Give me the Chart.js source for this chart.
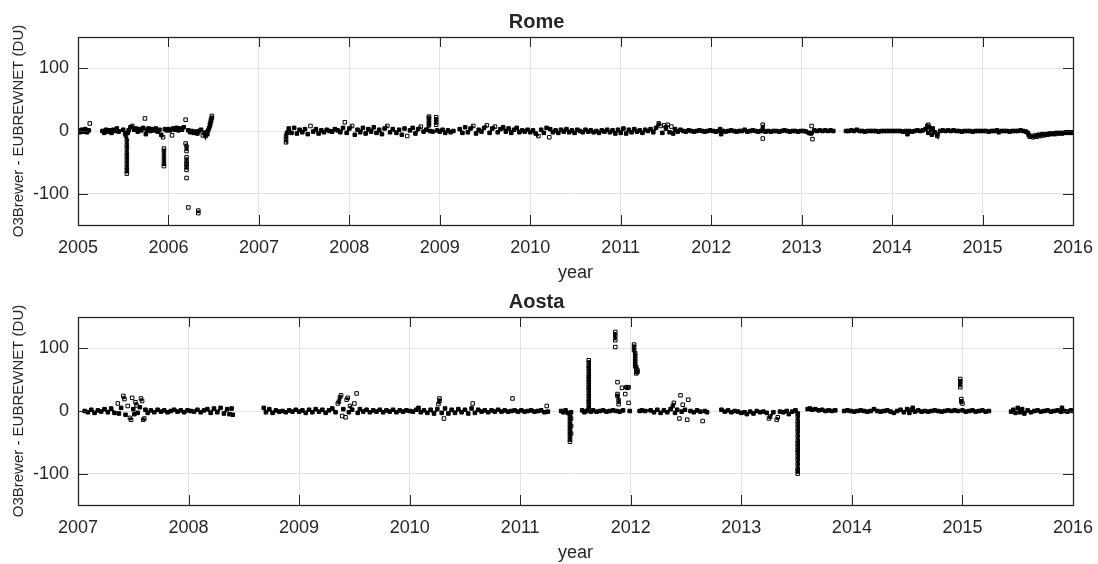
<!DOCTYPE html>
<html>
<head>
<meta charset="utf-8">
<script src="https://cdn.jsdelivr.net/npm/chart.js@4/dist/chart.umd.min.js"></script>
<style>
  body { margin: 0; background: #fff; }
  canvas { position: absolute; left: 0; }
  #rome { top: 0; }
  #aosta { top: 280px; }
</style>
</head>
<body>
<canvas id="rome" width="1098" height="282"></canvas>
<canvas id="aosta" width="1098" height="282"></canvas>
<script>
// datos: [año decimal, O3Brewer - EUBREWNET (DU)]
const romeTicks = [2005, 2006, 2007, 2008, 2009, 2010, 2011, 2012, 2013, 2014, 2015, 2016];
const aostaTicks = [2007, 2008, 2009, 2010, 2011, 2012, 2013, 2014, 2015, 2016];
const yTicks = [-100, 0, 100];

const romePoints = [
  [2005.00,1],[2005.02,-2],[2005.04,2],[2005.06,-1],[2005.08,3],[2005.10,-2],[2005.12,1],[2005.13,12],
  [2005.27,0],[2005.29,-3],[2005.31,2],[2005.33,-1],[2005.35,1],[2005.37,-3],[2005.39,2],[2005.41,0],[2005.43,4],[2005.45,-1],
  [2005.50,2],[2005.52,-4],[2005.53,-8],[2005.54,-15],[2005.54,-22],[2005.54,-28],[2005.54,-35],[2005.54,-40],[2005.54,-46],[2005.54,-52],[2005.54,-58],[2005.54,-63],[2005.54,-68],[2005.55,-3],[2005.56,1],
  [2005.58,6],[2005.60,8],[2005.62,2],[2005.64,4],[2005.66,-1],[2005.68,3],[2005.70,1],[2005.72,5],[2005.74,20],[2005.75,-5],[2005.76,2],[2005.78,4],[2005.80,0],[2005.82,3],[2005.84,1],[2005.86,4],[2005.88,-1],[2005.90,2],[2005.92,-6],
  [2005.94,-10],[2005.95,-28],[2005.95,-33],[2005.95,-40],[2005.95,-46],[2005.95,-52],[2005.95,-56],[2005.96,3],[2005.98,1],
  [2006.00,3],[2006.02,1],[2006.04,-7],[2006.05,4],[2006.07,2],[2006.09,5],[2006.11,1],[2006.13,4],[2006.15,2],[2006.17,6],
  [2006.19,18],[2006.19,-20],[2006.20,-25],[2006.20,-32],[2006.20,-42],[2006.20,-48],[2006.20,-53],[2006.20,-57],[2006.20,-62],[2006.20,-75],[2006.22,-122],
  [2006.22,1],[2006.24,-2],[2006.26,0],[2006.28,-3],[2006.30,-1],[2006.32,-4],[2006.33,-127],[2006.33,-131],[2006.34,0],[2006.36,2],[2006.38,-7],[2006.40,-3],[2006.41,-8],[2006.42,-2],[2006.43,-5],[2006.44,1],
  [2006.45,5],[2006.46,9],[2006.46,12],[2006.47,15],[2006.47,18],[2006.48,21],[2006.48,24],
  [2007.30,-18],[2007.30,-13],[2007.30,-8],[2007.31,-3],
  [2007.33,4],[2007.36,-3],[2007.39,5],[2007.42,-4],[2007.45,2],[2007.48,-2],[2007.51,3],[2007.54,-5],[2007.57,8],[2007.60,-1],[2007.63,3],[2007.66,-4],[2007.69,1],[2007.72,-2],[2007.75,2],[2007.78,0],[2007.81,-1],[2007.84,3],[2007.87,1],[2007.90,-2],[2007.93,5],[2007.95,14],[2007.97,-3],
  [2008.00,4],[2008.03,8],[2008.06,-6],[2008.09,2],[2008.12,-2],[2008.15,5],[2008.18,-4],[2008.21,3],[2008.24,-1],[2008.27,6],[2008.30,-3],[2008.33,2],[2008.36,-5],[2008.39,4],[2008.42,8],[2008.45,-2],[2008.48,3],
  [2008.52,-3],[2008.55,2],[2008.58,-6],[2008.61,4],[2008.64,-8],[2008.67,1],[2008.70,5],[2008.73,-4],[2008.76,3],[2008.79,7],[2008.82,-1],[2008.85,2],
  [2008.88,9],[2008.88,13],[2008.88,17],[2008.88,21],[2008.88,23],[2008.89,0],[2008.92,-1],[2008.96,10],[2008.96,14],[2008.96,18],[2008.96,22],[2008.97,1],
  [2009.00,-1],[2009.03,2],[2009.06,-3],[2009.09,1],[2009.12,-2],[2009.15,0],
  [2009.22,3],[2009.25,-3],[2009.28,6],[2009.31,-2],[2009.34,4],[2009.37,8],[2009.40,-4],[2009.43,2],[2009.46,-1],[2009.49,5],[2009.52,9],[2009.55,-3],[2009.58,4],[2009.61,7],[2009.64,-2],[2009.67,3],[2009.70,6],[2009.73,-1],[2009.76,4],[2009.79,-3],[2009.82,2],[2009.85,5],[2009.88,-2],[2009.91,1],[2009.94,-1],[2009.97,2],
  [2010.00,-2],[2010.03,1],[2010.06,-4],[2010.09,-8],[2010.12,2],[2010.15,-3],[2010.18,5],[2010.21,-10],[2010.22,3],[2010.25,-2],[2010.28,1],[2010.31,-3],[2010.34,2],[2010.37,-1],[2010.40,3],[2010.43,-2],[2010.46,1],[2010.49,-3],[2010.52,2],[2010.55,0],[2010.58,-2],[2010.61,2],[2010.64,-1],[2010.67,1],[2010.70,-2],[2010.73,0],[2010.76,-3],[2010.79,1],[2010.82,-1],[2010.85,2],[2010.88,-2],[2010.91,1],[2010.94,-4],[2010.97,2],
  [2011.00,-3],[2011.03,4],[2011.06,-4],[2011.09,2],[2011.12,-2],[2011.15,3],[2011.18,-1],[2011.21,1],[2011.24,-3],[2011.27,2],[2011.30,0],[2011.33,3],[2011.36,-2],[2011.39,5],[2011.42,12],[2011.44,8],[2011.46,-3],[2011.48,9],[2011.50,4],[2011.52,10],[2011.54,-2],[2011.56,7],[2011.58,-4],[2011.60,3],[2011.63,-1],[2011.66,2],
  [2011.69,0],[2011.72,-1],[2011.75,1],[2011.78,0],[2011.81,-1],[2011.84,0],[2011.87,1],[2011.90,0],[2011.93,-1],[2011.96,0],[2011.99,1],[2012.02,0],[2012.05,-1],[2012.08,0],[2012.10,3],[2012.11,-5],[2012.13,0],[2012.16,-1],[2012.19,0],[2012.22,1],[2012.25,0],[2012.28,-1],[2012.31,0],[2012.34,0],[2012.37,2],[2012.40,-1],[2012.43,0],[2012.46,1],[2012.49,0],[2012.52,-1],[2012.55,0],
  [2012.57,10],[2012.57,3],[2012.57,-12],
  [2012.60,-1],[2012.63,0],[2012.66,-1],[2012.69,0],[2012.72,0],[2012.75,-1],[2012.78,0],[2012.81,1],[2012.84,0],[2012.87,-1],[2012.90,0],[2012.93,0],[2012.96,-1],[2012.99,0],[2013.02,0],[2013.05,-1],[2013.08,-3],
  [2013.10,-4],[2013.11,8],[2013.11,-3],[2013.12,-13],
  [2013.14,1],[2013.17,0],[2013.20,1],[2013.23,0],[2013.26,1],[2013.29,0],[2013.32,1],[2013.35,0],
  [2013.49,0],[2013.52,0],[2013.55,1],[2013.58,0],[2013.61,2],[2013.64,0],[2013.67,0],[2013.70,-1],[2013.73,0],[2013.76,0],[2013.79,0],[2013.82,0],[2013.85,-1],[2013.88,0],[2013.91,0],[2013.94,0],[2013.97,0],
  [2014.00,0],[2014.03,0],[2014.06,0],[2014.09,0],[2014.12,-1],[2014.15,0],[2014.17,-5],[2014.19,0],[2014.22,-1],[2014.25,0],[2014.28,1],[2014.31,0],[2014.34,1],[2014.37,3],[2014.39,8],[2014.40,10],[2014.40,-3],[2014.41,6],[2014.43,2],[2014.44,-6],[2014.45,4],[2014.47,-2],[2014.50,-8],[2014.50,-5],[2014.53,0],[2014.56,1],[2014.59,0],[2014.62,1],[2014.65,0],[2014.68,1],[2014.71,0],[2014.74,0],[2014.77,-1],[2014.80,0],[2014.83,0],[2014.86,0],[2014.89,-1],[2014.92,0],[2014.95,0],[2014.98,0],
  [2015.01,0],[2015.04,0],[2015.07,-1],[2015.10,0],[2015.13,0],[2015.16,1],[2015.18,-2],[2015.21,0],[2015.24,0],[2015.27,0],[2015.30,-1],[2015.33,0],[2015.36,0],[2015.39,0],[2015.42,1],[2015.45,0],[2015.48,-1],
  [2015.50,-3],[2015.51,-6],[2015.52,-9],[2015.54,-8],[2015.56,-10],[2015.58,-7],[2015.60,-9],[2015.62,-6],[2015.64,-8],[2015.66,-5],[2015.68,-7],[2015.70,-5],[2015.72,-6],[2015.74,-4],[2015.76,-5],[2015.78,-4],[2015.80,-5],[2015.82,-3],[2015.84,-4],[2015.86,-3],[2015.88,-4],[2015.90,-3],[2015.92,-2],[2015.94,-3],[2015.96,-2],[2015.98,-3],[2016.00,-2]
];

const aostaPoints = [
  [2007.06,0],[2007.09,-2],[2007.12,2],[2007.15,-3],[2007.18,1],[2007.21,-1],[2007.24,3],[2007.27,-2],[2007.30,4],[2007.33,-3],[2007.36,12],[2007.37,-4],[2007.39,5],[2007.41,24],[2007.42,19],[2007.43,-6],[2007.45,8],[2007.47,-11],[2007.48,-14],[2007.49,21],[2007.50,3],[2007.51,-5],[2007.52,14],[2007.53,9],[2007.54,-3],[2007.56,6],[2007.57,20],[2007.58,16],[2007.59,-14],[2007.60,-12],[2007.61,2],[2007.63,-3],[2007.66,1],[2007.69,-2],[2007.72,2],[2007.75,-1],[2007.78,1],[2007.81,-2],[2007.84,0],[2007.87,2],[2007.90,-1],[2007.93,1],[2007.96,-2],[2007.99,1],
  [2008.02,0],[2008.05,-1],[2008.08,2],[2008.11,-2],[2008.14,1],[2008.17,3],[2008.20,-3],[2008.23,4],[2008.26,-2],[2008.29,5],[2008.32,-4],[2008.35,3],[2008.37,-5],[2008.39,4],[2008.40,-6],
  [2008.68,5],[2008.70,-2],[2008.73,3],[2008.76,-3],[2008.79,1],[2008.82,-1],[2008.85,0],[2008.88,-2],[2008.91,1],[2008.94,-1],[2008.97,2],[2009.00,-1],[2009.03,1],[2009.06,-3],[2009.09,2],[2009.12,-2],[2009.15,3],[2009.18,-1],[2009.21,2],[2009.24,-3],[2009.27,1],
  [2009.30,4],[2009.33,-2],[2009.35,12],[2009.36,15],[2009.37,22],[2009.38,25],[2009.39,-8],[2009.40,3],[2009.42,-10],[2009.43,18],[2009.44,21],[2009.45,-2],[2009.46,8],[2009.48,2],[2009.50,12],[2009.52,28],[2009.53,-3],[2009.55,3],[2009.58,-1],[2009.61,2],[2009.64,-2],[2009.67,1],[2009.70,-1],[2009.73,2],[2009.76,-2],[2009.79,1],[2009.82,-1],[2009.85,2],[2009.88,-2],[2009.91,1],[2009.94,-1],[2009.97,1],
  [2010.00,0],[2010.03,-1],[2010.06,2],[2010.08,5],[2010.10,-2],[2010.13,1],[2010.16,-3],[2010.19,2],[2010.22,-4],[2010.25,3],[2010.26,11],[2010.27,16],[2010.27,20],[2010.29,-3],[2010.31,-12],[2010.32,4],[2010.35,-4],[2010.38,2],[2010.41,-3],[2010.44,3],[2010.47,-2],[2010.50,2],[2010.53,-4],[2010.56,4],[2010.57,12],[2010.59,-3],[2010.62,2],[2010.65,-1],[2010.68,1],[2010.71,-2],[2010.74,1],[2010.77,-1],[2010.80,2],[2010.83,-1],[2010.86,1],[2010.89,-1],[2010.92,0],[2010.93,20],[2010.95,1],[2010.98,-1],
  [2011.01,1],[2011.04,-1],[2011.07,0],[2011.10,1],[2011.13,-1],[2011.16,0],[2011.19,1],[2011.22,-2],[2011.24,8],[2011.25,-1],
  [2011.37,0],[2011.39,-2],[2011.41,1],[2011.43,-3],
  [2011.45,-5],[2011.45,-9],[2011.45,-13],[2011.45,-17],[2011.45,-21],[2011.45,-25],[2011.45,-29],[2011.45,-33],[2011.45,-37],[2011.45,-41],[2011.45,-45],[2011.45,-49],[2011.46,-36],[2011.46,-24],[2011.46,-12],[2011.46,-2],
  [2011.56,1],[2011.58,-2],[2011.60,0],
  [2011.62,6],[2011.62,11],[2011.62,15],[2011.62,19],[2011.62,24],[2011.62,28],[2011.62,33],[2011.62,37],[2011.62,41],[2011.62,46],[2011.62,50],[2011.62,54],[2011.62,58],[2011.62,63],[2011.62,68],[2011.62,72],[2011.62,77],[2011.62,81],
  [2011.64,-1],[2011.66,1],[2011.69,-1],[2011.72,0],[2011.75,1],[2011.78,-1],[2011.81,0],[2011.84,1],
  [2011.86,126],[2011.86,120],[2011.86,113],[2011.86,102],[2011.87,0],[2011.88,46],[2011.88,27],[2011.88,24],[2011.89,17],[2011.89,11],[2011.90,-1],[2011.92,37],[2011.93,1],[2011.95,27],[2011.96,38],[2011.97,37],[2011.98,38],[2011.98,13],[2011.99,0],
  [2012.03,106],[2012.03,102],[2012.03,97],[2012.04,92],[2012.04,88],[2012.04,83],[2012.04,79],[2012.04,75],[2012.04,71],[2012.05,67],[2012.05,63],[2012.05,60],[2012.05,70],[2012.06,65],[2012.06,62],
  [2012.08,0],[2012.10,1],[2012.13,0],
  [2012.18,1],[2012.21,-2],[2012.24,2],[2012.27,-3],[2012.30,1],[2012.33,-2],[2012.36,3],[2012.38,8],[2012.39,13],[2012.40,-3],[2012.42,2],[2012.44,-12],[2012.45,25],[2012.46,-1],[2012.47,10],[2012.49,2],[2012.51,-14],[2012.52,18],[2012.54,0],[2012.57,-2],[2012.60,1],[2012.63,-1],[2012.65,-16],[2012.67,0],[2012.69,-2],
  [2012.82,2],[2012.85,-1],[2012.88,1],[2012.91,-2],[2012.94,0],[2012.97,-1],[2013.00,-3],[2013.03,-2],[2013.05,-5],[2013.08,-1],[2013.11,-4],[2013.14,0],[2013.17,-2],[2013.20,-1],[2013.23,-3],[2013.25,-12],[2013.26,-9],[2013.29,-2],[2013.32,-14],[2013.33,-10],[2013.35,-1],[2013.38,-2],[2013.41,0],[2013.43,-5],[2013.46,-1],[2013.49,1],
  [2013.51,-4],[2013.51,-9],[2013.51,-16],[2013.51,-21],[2013.51,-27],[2013.51,-33],[2013.51,-40],[2013.51,-47],[2013.51,-52],[2013.51,-57],[2013.51,-62],[2013.51,-66],[2013.51,-72],[2013.51,-78],[2013.51,-85],[2013.51,-92],[2013.51,-96],[2013.51,-100],
  [2013.60,3],[2013.62,4],[2013.64,2],[2013.67,3],[2013.70,1],[2013.73,2],[2013.76,0],[2013.79,1],[2013.82,0],[2013.85,1],
  [2013.93,0],[2013.96,1],[2013.99,0],[2014.02,-1],[2014.05,0],[2014.08,1],[2014.11,0],[2014.14,-1],[2014.17,0],[2014.20,3],[2014.23,0],[2014.26,-1],[2014.29,0],[2014.32,1],[2014.35,-1],[2014.38,-3],[2014.41,0],[2014.44,2],[2014.47,-2],[2014.50,3],[2014.52,-3],[2014.54,2],[2014.55,5],[2014.57,-1],[2014.60,1],[2014.63,-1],[2014.66,0],[2014.69,-1],[2014.72,0],[2014.75,1],[2014.78,0],[2014.81,-1],[2014.84,0],[2014.87,1],[2014.90,0],[2014.93,1],[2014.96,0],
  [2014.98,51],[2014.98,47],[2014.98,43],[2014.98,38],[2014.99,19],[2014.99,15],[2015.00,12],[2015.00,1],[2015.03,-1],[2015.06,0],[2015.09,1],[2015.12,-1],[2015.15,0],[2015.18,1],[2015.21,-1],[2015.24,0],
  [2015.44,-1],[2015.46,2],[2015.48,-3],[2015.50,5],[2015.52,-2],[2015.54,3],[2015.56,-4],[2015.59,1],[2015.62,-2],[2015.65,0],[2015.68,1],[2015.71,-1],[2015.74,0],[2015.77,1],[2015.80,-1],[2015.83,0],[2015.86,1],[2015.89,-1],[2015.90,5],[2015.92,0],[2015.95,-1],[2015.98,1],[2016.00,0]
];

const axisColor = '#262626';
const gridColor = '#e3e3e3';
const fontFamily = '"Liberation Sans", Arial, Helvetica, sans-serif';

// caja estilo MATLAB con marcas hacia adentro
const boxPlugin = {
  id: 'matlabBox',
  afterDraw(chart) {
    const ctx = chart.ctx;
    const a = chart.chartArea;
    const x = chart.scales.x;
    const y = chart.scales.y;
    const tick = 10;
    ctx.save();
    ctx.strokeStyle = axisColor;
    ctx.lineWidth = 1;
    ctx.beginPath();
    x.ticks.forEach(function (t) {
      const px = Math.round(x.getPixelForValue(t.value)) + 0.5;
      ctx.moveTo(px, a.bottom); ctx.lineTo(px, a.bottom - tick);
      ctx.moveTo(px, a.top); ctx.lineTo(px, a.top + tick);
    });
    y.ticks.forEach(function (t) {
      const py = Math.round(y.getPixelForValue(t.value)) + 0.5;
      ctx.moveTo(a.left, py); ctx.lineTo(a.left + tick, py);
      ctx.moveTo(a.right, py); ctx.lineTo(a.right - tick, py);
    });
    ctx.stroke();
    ctx.lineWidth = 1.3;
    ctx.strokeRect(Math.round(a.left) + 0.5, Math.round(a.top) + 0.5, Math.round(a.right - a.left), Math.round(a.bottom - a.top));
    ctx.restore();
  }
};

// puntos densos cerca de cero se ven rellenos (se solapan), los aislados huecos
function marker_fill(c) {
  const v = c.raw ? c.raw.y : 0;
  return Math.abs(v) <= 6 ? '#000' : 'rgba(0,0,0,0)';
}

// solo se unen mediciones vecinas (banda continua), no huecos ni saltos
function band_segment(c) {
  const dx = Math.abs(c.p1.parsed.x - c.p0.parsed.x);
  const dy = Math.abs(c.p1.parsed.y - c.p0.parsed.y);
  return (dx > 0.05 || dy > 7) ? 'rgba(0,0,0,0)' : undefined;
}

function scatter_panel(canvasId, title, points, xTicks) {
  const ctx = document.getElementById(canvasId).getContext('2d');
  return new Chart(ctx, {
    type: 'scatter',
    data: {
      datasets: [{
        data: points.map(function (p) { return { x: p[0], y: p[1] }; }),
        showLine: true,
        borderColor: '#000',
        borderWidth: 2.5,
        tension: 0,
        segment: { borderColor: band_segment },
        pointStyle: 'rect',
        pointRadius: 2.5,
        pointBorderColor: '#000',
        pointBackgroundColor: marker_fill,
        pointBorderWidth: 1
      }]
    },
    options: {
      responsive: false,
      animation: false,
      devicePixelRatio: 1,
      layout: { padding: { left: 0, right: 25, top: 0, bottom: 0 } },
      plugins: {
        legend: { display: false },
        tooltip: { enabled: false },
        title: {
          display: true,
          text: title,
          color: axisColor,
          font: { family: fontFamily, size: 20, weight: 'bold', lineHeight: 1.2 },
          padding: { top: 10, bottom: 3 }
        }
      },
      scales: {
        x: {
          type: 'linear',
          min: xTicks[0],
          max: xTicks[xTicks.length - 1],
          afterBuildTicks: function (s) { s.ticks = xTicks.map(function (v) { return { value: v }; }); },
          afterFit: function (s) { s.height = 57; s.paddingLeft = 0; s.paddingRight = 0; },
          grid: { color: gridColor, drawTicks: false },
          border: { display: false },
          ticks: {
            color: axisColor,
            padding: 12,
            maxRotation: 0,
            autoSkip: false,
            font: { family: fontFamily, size: 18 },
            callback: function (v) { return String(v); }
          },
          title: {
            display: true,
            text: 'year',
            color: axisColor,
            padding: { top: 0, bottom: 0 },
            font: { family: fontFamily, size: 18, lineHeight: 1.0 }
          }
        },
        y: {
          min: -150,
          max: 150,
          afterBuildTicks: function (s) { s.ticks = yTicks.map(function (v) { return { value: v }; }); },
          afterFit: function (s) { s.width = 78; },
          grid: { color: gridColor, drawTicks: false },
          border: { display: false },
          ticks: {
            color: axisColor,
            padding: 9,
            font: { family: fontFamily, size: 18 },
            callback: function (v) { return String(v); }
          },
          title: {
            display: true,
            text: 'O3Brewer - EUBREWNET (DU)',
            color: axisColor,
            padding: { top: 10, bottom: 0 },
            font: { family: fontFamily, size: 15, lineHeight: 1.2 }
          }
        }
      }
    },
    plugins: [boxPlugin]
  });
}

scatter_panel('rome', 'Rome', romePoints, romeTicks);
scatter_panel('aosta', 'Aosta', aostaPoints, aostaTicks);
</script>
</body>
</html>
